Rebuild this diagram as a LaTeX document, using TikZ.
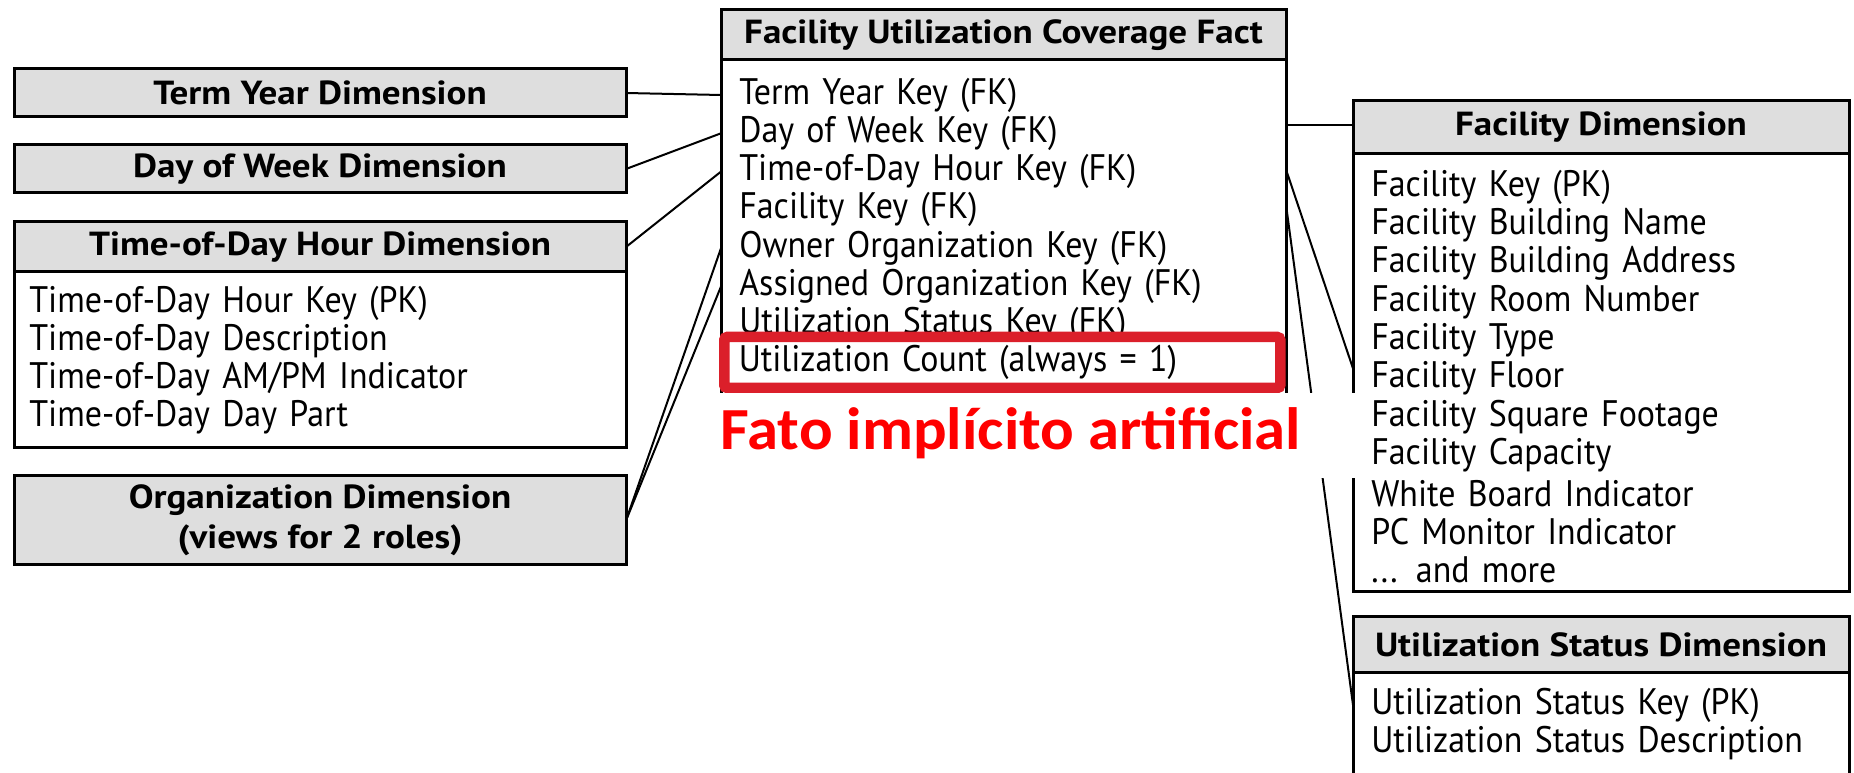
\documentclass[tikz,border=0pt]{standalone}
\usepackage{fontspec}
\setmainfont{PT Sans}[FakeStretch=0.92]
\newfontfamily\headfont{PT Sans}[FakeStretch=1.11]
\newfontfamily\notefont{Carlito}[FakeStretch=1.05]
\usetikzlibrary{positioning}
\definecolor{headgray}{RGB}{222,222,222}
\definecolor{boxred}{RGB}{219,31,42}
\definecolor{notered}{RGB}{255,0,0}
\newlength\pu
\setlength\pu{0.02cm}

\begin{document}
\begin{tikzpicture}[x=0.02cm, y=-0.02cm,
    head/.style={draw, line width=3\pu, fill=headgray, anchor=north west, inner sep=0pt, outer sep=0pt,
      align=center, font=\headfont\bfseries\fontsize{19}{23}\selectfont},
    body/.style={draw, line width=3\pu, fill=white, inner sep=0pt, outer sep=0pt},
    row/.style={anchor=west, align=left, inner xsep=18\pu, inner ysep=0pt,
      minimum height=38\pu, font=\fontsize{21}{21}\selectfont},
    hilite/.style={draw=boxred, fill=white, line width=10.5\pu, rounded corners=3\pu,
      inner xsep=14.5\pu, text width=527\pu, minimum height=51\pu},
    link/.style={line width=2\pu}]
    \useasboundingbox (0,0) rectangle (1854,773);

    % Left dimensions
    \node[head, minimum width=612\pu, minimum height=48\pu] (termyear) at (14,69) {Term Year Dimension};
    \node[head, minimum width=612\pu, minimum height=48\pu] (dayweek) at (14,145) {Day of Week Dimension};
    \node[head, minimum width=612\pu, minimum height=50\pu] (timehead) at (14,222) {Time-of-Day Hour Dimension};
    \node[body, minimum width=612\pu, minimum height=176\pu, below=0pt of timehead] (timebody) {};
    \foreach \t [count=\i] in {Time-of-Day Hour Key (PK), Time-of-Day Description,
        Time-of-Day AM/PM Indicator, Time-of-Day Day Part}
        \node[row, inner xsep=15\pu, text width=582\pu] (tr\i) at (14, 265+\i*38) {\t};
    \node[head, minimum width=612\pu, minimum height=89\pu] (org) at (14,476) {Organization Dimension\\(views for 2 roles)};

    % Fact table
    \node[head, minimum width=565\pu, minimum height=50\pu] (facthead) at (721,10) {Facility Utilization Coverage Fact};
    \node[body, minimum width=565\pu, minimum height=400\pu, below=0pt of facthead] (factbody) {};
    \foreach \t [count=\i] in {Term Year Key (FK), Day of Week Key (FK), Time-of-Day Hour Key (FK),
        Facility Key (FK), Owner Organization Key (FK), Assigned Organization Key (FK),
        Utilization Status Key (FK)}
        \node[row, text width=529\pu] (fk\i) at (721, 56.7+\i*38.3) {\t};
    \node[row, hilite] (fk8) at (719,362.5) {Utilization Count (always = 1)};

    % Right dimensions
    \node[head, minimum width=496\pu, minimum height=53\pu] (fachead) at (1353,101) {Facility Dimension};
    \node[body, minimum width=496\pu, minimum height=438\pu, below=0pt of fachead] (facbody) {};
    \foreach \t [count=\i] in {Facility Key (PK), Facility Building Name, Facility Building Address,
        Facility Room Number, Facility Type, Facility Floor, Facility Square Footage,
        Facility Capacity, White Board Indicator, PC Monitor Indicator, {...} and more}
        \node[row, text width=460\pu] (fr\i) at (1353, 148.7+\i*38.3) {\t};

    \node[head, minimum width=496\pu, minimum height=55\pu] (ushead) at (1353,617) {Utilization Status Dimension};
    \node[body, minimum width=496\pu, minimum height=150\pu, below=0pt of ushead] (usbody) {};
    \foreach \t [count=\i] in {Utilization Status Key (PK), Utilization Status Description}
        \node[row, text width=460\pu] (us\i) at (1353, 667+\i*38) {\t};

    % Connectors
    \draw[link] (termyear.east) -- (fk1.west);
    \draw[link] (dayweek.east) -- (fk2.west);
    \draw[link] (timehead.east) -- (fk3.west);
    \draw[link] (org.east) -- (fk5.west);
    \draw[link] (org.east) -- (fk6.west);
    \draw[link] ([yshift=0.05cm]fachead.west -| factbody.east) -- ([yshift=0.05cm]fachead.west);
    \draw[link] (fk3.east) -- ([yshift=0.2cm]fr6.west);
    \draw[link] (fk4.east) -- (us1.west);

    % Note
    \fill[white] (700,393) rectangle (1358,478);
    \node[anchor=base west, inner sep=0pt, text=notered,
        font=\notefont\bfseries\fontsize{34}{34}\selectfont] (note) at (720,450) {Fato implícito artificial};

\end{tikzpicture}
\end{document}
